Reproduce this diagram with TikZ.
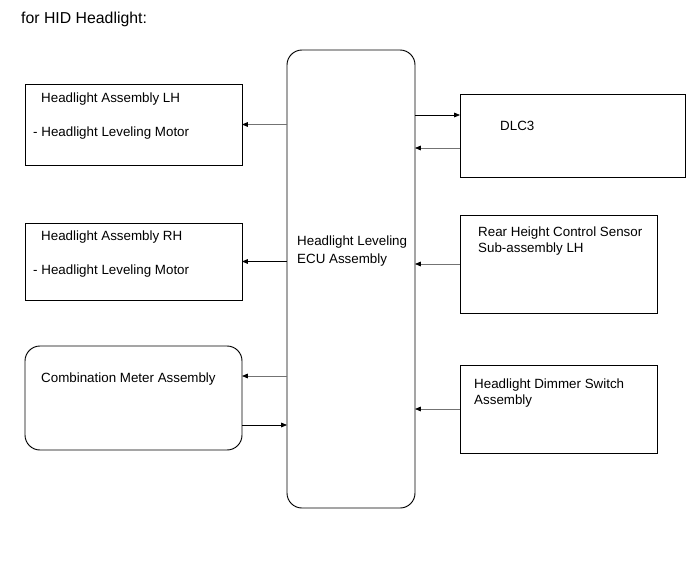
\documentclass[tikz,border=0pt]{standalone}
\usepackage{fontspec}
\setmainfont{Liberation Sans}
\usetikzlibrary{calc,positioning,arrows.meta}

\begin{document}
\begin{tikzpicture}[x=0.03cm, y=-0.03cm,
  box/.style={draw, line width=0.8pt, inner sep=0pt, outer sep=0pt, anchor=north west},
  rbox/.style={box, rounded corners=0.45cm},
  lbl/.style={anchor=base west, inner sep=0pt, font=\fontsize{11.4}{13}\selectfont},
  arr/.style={-{Triangle[length=5pt,width=4pt,black]}, line width=0.7pt},
  arrg/.style={arr, draw=black!55}]
\useasboundingbox (0,0) rectangle (691,562);
\node[lbl, font=\fontsize{13.5}{16}\selectfont] (ttl) at (21,24) {for HID Headlight:};
% ECU in the middle
\node[rbox, minimum width=3.84cm, minimum height=13.74cm] (ecu) at (287,50) {};
\node[lbl] (ecut1) at (297,245) {Headlight Leveling};
\node[lbl] (ecut2) at (297,263) {ECU Assembly};
% left side
\node[box, minimum width=6.51cm, minimum height=2.43cm] (lh) at (25,84) {};
\node[lbl] (lht1) at (41,103) {Headlight Assembly LH};
\node[lbl] (lht2) at (33,137) {- Headlight Leveling Motor};
\node[box, minimum width=6.51cm, minimum height=2.31cm] (rh) at (25,223) {};
\node[lbl] (rht1) at (41,240) {Headlight Assembly RH};
\node[lbl] (rht2) at (33,274) {- Headlight Leveling Motor};
\node[rbox, minimum width=6.51cm, minimum height=3.12cm] (cm) at (25,346) {};
\node[lbl] (cmt) at (41,382) {Combination Meter Assembly};
% right side
\node[box, minimum width=6.75cm, minimum height=2.49cm] (dlc) at (460,94) {};
\node[lbl] (dlct) at (500,131) {DLC3};
\node[box, minimum width=5.91cm, minimum height=2.94cm] (rs) at (460,215) {};
\node[lbl] (rst1) at (478,236) {Rear Height Control Sensor};
\node[lbl] (rst2) at (478,252) {Sub-assembly LH};
\node[box, minimum width=5.91cm, minimum height=2.64cm] (dim) at (460,365) {};
\node[lbl] (dimt1) at (474,388) {Headlight Dimmer Switch};
\node[lbl] (dimt2) at (474,404) {Assembly};
\coordinate (cm1) at ($(cm.east)+(0,-22)$);
\coordinate (cm2) at ($(cm.east)+(0,27)$);
\coordinate (dlc1) at ($(dlc.west)+(0,-20.5)$);
\coordinate (dlc2) at ($(dlc.west)+(0,12.5)$);
% connectors
\draw[arrg] (ecu.west |- lh.east) -- (lh.east);
\draw[arr] (ecu.west |- rh.east) -- (rh.east);
\draw[arrg] (ecu.west |- cm1) -- (cm1);
\draw[arr] (cm2) -- (ecu.west |- cm2);
\draw[arr] (ecu.east |- dlc1) -- (dlc1);
\draw[arrg] (dlc2) -- (ecu.east |- dlc2);
\draw[arrg] (rs.west) -- (ecu.east |- rs.west);
\draw[arrg] (dim.west) -- (ecu.east |- dim.west);
\end{tikzpicture}
\end{document}
